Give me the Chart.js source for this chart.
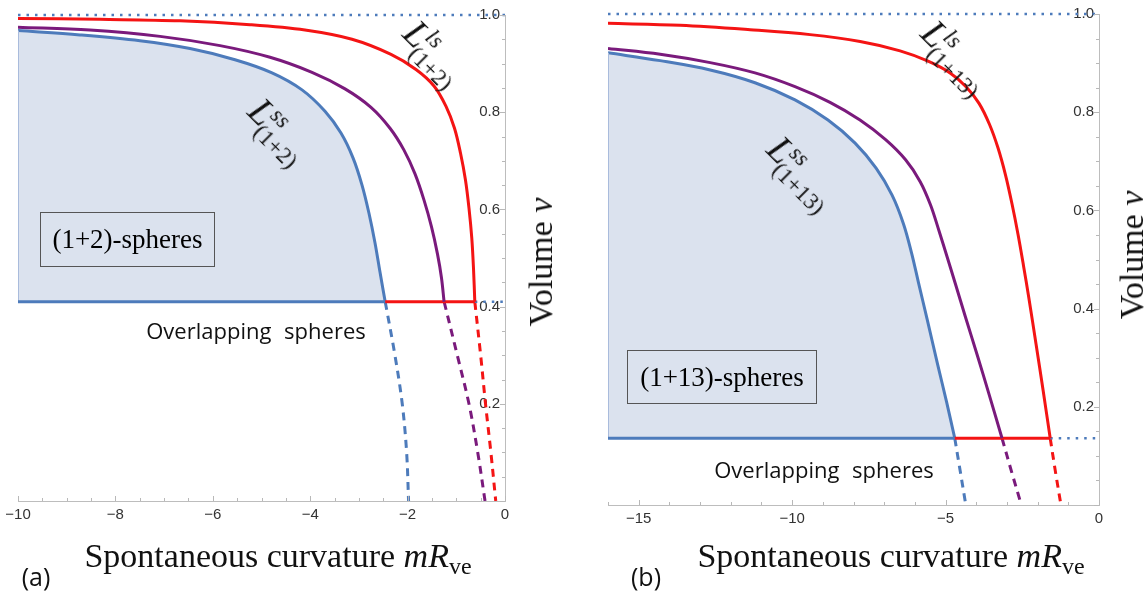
<!DOCTYPE html>
<html>
<head>
<meta charset="utf-8">
<script src="https://cdn.jsdelivr.net/npm/chart.js@4.4.0/dist/chart.umd.min.js"></script>
<style>
  body { margin: 0; background: #fff; }
  #wrap { position: relative; width: 1148px; height: 593px; overflow: hidden; }
  canvas { position: absolute; top: 0; }
  .t { position: absolute; white-space: nowrap; color: #111; transform: translate(-50%, -50%); }
  .serif { font-family: "Liberation Serif", "DejaVu Serif", serif; }
  .sans { font-family: "Open Sans", "Noto Sans", sans-serif; }
  .lab { font-size: 37px; line-height: 1; }
  .lab i { font-style: italic; }
  .lab .st { display: inline-block; vertical-align: middle; font-size: 23px; line-height: 1.05; margin-left: -2px; }
  .lab .st span { display: block; }
  .box { position: absolute; border: 1px solid #555; box-sizing: border-box; font-size: 27px;
         display: flex; align-items: center; justify-content: center; }
  .ttl { font-size: 34px; }
  .ttl sub { font-size: 24px; vertical-align: -7px; }
  .ov { font-size: 22px; word-spacing: 7px; }
</style>
</head>
<body>
<div id="wrap">
  <canvas id="chartA" width="574" height="593" style="left:0"></canvas>
  <canvas id="chartB" width="574" height="593" style="left:574px"></canvas>

  <!-- pannello (a) -->
  <div class="t serif lab" style="left:432px;top:54px;transform:translate(-50%,-50%) rotate(45deg)"><i>L</i><span class="st"><span><i>ls</i></span><span>(1+2)</span></span></div>
  <div class="t serif lab" style="left:277px;top:132px;transform:translate(-50%,-50%) rotate(45deg)"><i>L</i><span class="st"><span><i>ss</i></span><span>(1+2)</span></span></div>
  <div class="box serif" style="left:40px;top:212px;width:175px;height:55px">(1+2)-spheres</div>
  <div class="t sans ov" style="left:256px;top:330px">Overlapping spheres</div>
  <div class="t serif ttl" style="left:278px;top:558px">Spontaneous curvature <i>mR</i><sub>ve</sub></div>
  <div class="t serif ttl" style="left:541px;top:262px;transform:translate(-50%,-50%) rotate(-90deg)">Volume <i>v</i></div>
  <div class="t sans" style="left:36px;top:576px;font-size:25px">(a)</div>

  <!-- pannello (b) -->
  <div class="t serif lab" style="left:954px;top:58px;transform:translate(-50%,-50%) rotate(45deg)"><i>L</i><span class="st"><span><i>ls</i></span><span>(1+13)</span></span></div>
  <div class="t serif lab" style="left:800px;top:174px;transform:translate(-50%,-50%) rotate(45deg)"><i>L</i><span class="st"><span><i>ss</i></span><span>(1+13)</span></span></div>
  <div class="box serif" style="left:627px;top:350px;width:190px;height:54px">(1+13)-spheres</div>
  <div class="t sans ov" style="left:824px;top:469px">Overlapping spheres</div>
  <div class="t serif ttl" style="left:891px;top:558px">Spontaneous curvature <i>mR</i><sub>ve</sub></div>
  <div class="t serif ttl" style="left:1132px;top:255px;transform:translate(-50%,-50%) rotate(-90deg)">Volume <i>v</i></div>
  <div class="t sans" style="left:646px;top:576px;font-size:25px">(b)</div>
</div>

<script>
// ---- pannello (a): (1+2)-spheres ----
const xTicksA = [-10, -8, -6, -4, -2, 0];
const yTicks = [0.2, 0.4, 0.6, 0.8, 1.0];
const vLimA = 0.41;

const xA_ls = [-10, -8.316, -6.674, -5.236, -4.107, -3.142, -2.341, -1.828, -1.458, -1.211, -1.037, -0.914, -0.811, -0.739, -0.682, -0.647, -0.62];
const vA_ls = [0.993, 0.991, 0.988, 0.980, 0.969, 0.950, 0.919, 0.888, 0.854, 0.812, 0.767, 0.716, 0.660, 0.602, 0.541, 0.479, 0.41];

const xA_mid = [-10, -8.522, -7.084, -5.852, -4.825, -3.963, -3.285, -2.752, -2.361, -2.074, -1.848, -1.663, -1.509, -1.386, -1.304, -1.251];
const vA_mid = [0.975, 0.969, 0.956, 0.937, 0.913, 0.882, 0.848, 0.810, 0.767, 0.722, 0.673, 0.619, 0.564, 0.508, 0.459, 0.41];

const xA_ss = [-10, -8.727, -7.495, -6.468, -5.544, -4.784, -4.168, -3.696, -3.368, -3.121, -2.936, -2.793, -2.669, -2.567, -2.46];
const vA_ss = [0.968, 0.959, 0.947, 0.931, 0.908, 0.881, 0.846, 0.802, 0.757, 0.706, 0.650, 0.592, 0.531, 0.471, 0.41];

// tratti sotto la linea limite
const vDashA = [0.41, 0.3, 0.2, 0.1, 0];
const xA_ssD = [-2.46, -2.26, -2.11, -2.02, -1.98];
const xA_midD = [-1.25, -0.98, -0.74, -0.56, -0.41];
const xA_lsD = [-0.62, -0.5, -0.4, -0.29, -0.19];

// ---- pannello (b): (1+13)-spheres ----
const xTicksB = [-15, -10, -5, 0];
const vLimB = 0.136;

const xB_ls = [-16, -13.65, -11.37, -9.414, -7.785, -6.482, -5.57, -4.853, -4.332, -3.909, -3.567, -3.29, -3.046, -2.834, -2.638, -2.459, -2.287, -2.052, -1.818, -1.59];
const vB_ls = [0.981, 0.977, 0.968, 0.958, 0.944, 0.925, 0.904, 0.880, 0.852, 0.818, 0.775, 0.727, 0.672, 0.613, 0.551, 0.487, 0.422, 0.328, 0.232, 0.136];

const xB_mid = [-16, -14.30, -12.67, -11.21, -9.906, -8.765, -7.788, -6.954, -6.303, -5.831, -5.489, -5.212, -4.938, -4.678, -4.352, -3.971, -3.599, -3.16];
const vB_mid = [0.930, 0.918, 0.901, 0.880, 0.852, 0.820, 0.784, 0.744, 0.703, 0.659, 0.611, 0.558, 0.503, 0.450, 0.383, 0.306, 0.229, 0.136];

const xB_ss = [-16, -14.30, -12.67, -11.21, -9.906, -8.831, -7.948, -7.264, -6.743, -6.368, -6.107, -5.879, -5.603, -5.261, -4.967, -4.70];
const vB_ss = [0.921, 0.905, 0.886, 0.860, 0.825, 0.784, 0.737, 0.686, 0.631, 0.572, 0.513, 0.452, 0.379, 0.287, 0.210, 0.136];

const vDashB = [0.136, 0.068, 0];
const xB_ssD = [-4.70, -4.52, -4.34];
const xB_midD = [-3.16, -2.85, -2.53];
const xB_lsD = [-1.59, -1.42, -1.24];

// colori
const RED = '#f41414';
const PURPLE = '#7a1a7c';
const BLUE = '#4d7bbb';
const FILL = '#dbe2ee';
const TICKFONT = { family: "'Liberation Sans', Arial, sans-serif", size: 15 };

const pts = (xs, ys) => xs.map((x, i) => ({ x: x, y: ys[i] }));

// tacche maggiori e minori verso l'interno
const tickMarks = {
  id: 'tickMarks',
  afterDraw(chart, args, opts) {
    const { ctx, scales: { x, y } } = chart;
    ctx.save();
    ctx.strokeStyle = '#b8b8b8';
    ctx.lineWidth = 1;
    const run = (scale, step, len, horiz) => {
      const start = Math.ceil(scale.min / step - 1e-9);
      const end = Math.floor(scale.max / step + 1e-9);
      for (let k = start; k <= end; k++) {
        const p = Math.round(scale.getPixelForValue(k * step)) + 0.5;
        ctx.beginPath();
        if (horiz) { ctx.moveTo(p, x.top); ctx.lineTo(p, x.top - len); }
        else { ctx.moveTo(y.left, p); ctx.lineTo(y.left - len, p); }
        ctx.stroke();
      }
    };
    run(x, opts.xMajor, 5, true);
    run(x, opts.xMinor, 3, true);
    run(y, 0.2, 5, false);
    run(y, 0.05, 3, false);
    ctx.restore();
  }
};

function line(data, color, width, dash) {
  return { data: data, borderColor: color, borderWidth: width, borderDash: dash || [],
           showLine: true, pointRadius: 0, fill: false, tension: 0.35 };
}

function dotted(data) {
  return Object.assign(line(data, BLUE, 2.5, [2.5, 6]), { clip: false, tension: 0 });
}

function makeChart(id, c) {
  return new Chart(document.getElementById(id), {
    type: 'scatter',
    data: { datasets: c.datasets },
    options: {
      responsive: false,
      animation: false,
      events: [],
      layout: { padding: c.pad },
      plugins: { legend: { display: false }, tooltip: { enabled: false }, tickMarks: c.marks },
      scales: {
        x: {
          type: 'linear', min: c.xMin, max: 0,
          grid: { display: false, drawTicks: false },
          border: { color: '#bdbdbd', width: 1 },
          afterBuildTicks: s => { s.ticks = c.xTicks.map(v => ({ value: v })); },
          afterFit: s => { s.height = 22; },
          ticks: { padding: 5, color: '#333', font: TICKFONT,
                   callback: v => v < 0 ? '\u2212' + Math.abs(v) : String(v) }
        },
        y: {
          type: 'linear', position: 'right', min: 0, max: 1,
          grid: { display: false, drawTicks: false },
          border: { color: '#bdbdbd', width: 1 },
          afterBuildTicks: s => { s.ticks = yTicks.map(v => ({ value: v })); },
          afterFit: s => { s.width = 0; },
          ticks: { mirror: true, padding: -5, color: '#333', font: TICKFONT,
                   callback: v => v.toFixed(1) }
        }
      }
    },
    plugins: [tickMarks]
  });
}

makeChart('chartA', {
  xMin: -10, xTicks: xTicksA,
  pad: { left: 18, top: 15, right: 69, bottom: 70 },
  marks: { xMajor: 2, xMinor: 0.5 },
  datasets: [
    line(pts(xA_ls, vA_ls), RED, 3),
    line(pts(xA_mid, vA_mid), PURPLE, 3),
    line(pts([xA_ss[xA_ss.length - 1], xA_ls[xA_ls.length - 1]], [vLimA, vLimA]), RED, 3),
    line(pts([-10, xA_ss[xA_ss.length - 1]], [vLimA, vLimA]), BLUE, 3),
    dotted(pts([xA_ls[xA_ls.length - 1], 0], [vLimA, vLimA])),
    dotted(pts([-10, 0], [1, 1])),
    line(pts(xA_ssD, vDashA), BLUE, 3, [8, 6]),
    line(pts(xA_midD, vDashA), PURPLE, 3, [8, 6]),
    line(pts(xA_lsD, vDashA), RED, 3, [8, 6]),
    line(pts([-10, -10], [vLimA, vA_ss[0]]), '#a9bbdc', 2),
    Object.assign(line(pts(xA_ss, vA_ss), BLUE, 3), { fill: { value: vLimA }, backgroundColor: FILL })
  ]
});

makeChart('chartB', {
  xMin: -16, xTicks: xTicksB,
  pad: { left: 34, top: 14, right: 49, bottom: 66 },
  marks: { xMajor: 5, xMinor: 1 },
  datasets: [
    line(pts(xB_ls, vB_ls), RED, 3),
    line(pts(xB_mid, vB_mid), PURPLE, 3),
    line(pts([xB_ss[xB_ss.length - 1], xB_ls[xB_ls.length - 1]], [vLimB, vLimB]), RED, 3),
    line(pts([-16, xB_ss[xB_ss.length - 1]], [vLimB, vLimB]), BLUE, 3),
    dotted(pts([xB_ls[xB_ls.length - 1], 0], [vLimB, vLimB])),
    dotted(pts([-16, 0], [1, 1])),
    line(pts(xB_ssD, vDashB), BLUE, 3, [8, 6]),
    line(pts(xB_midD, vDashB), PURPLE, 3, [8, 6]),
    line(pts(xB_lsD, vDashB), RED, 3, [8, 6]),
    line(pts([-16, -16], [vLimB, vB_ss[0]]), '#a9bbdc', 2),
    Object.assign(line(pts(xB_ss, vB_ss), BLUE, 3), { fill: { value: vLimB }, backgroundColor: FILL })
  ]
});
</script>
</body>
</html>
